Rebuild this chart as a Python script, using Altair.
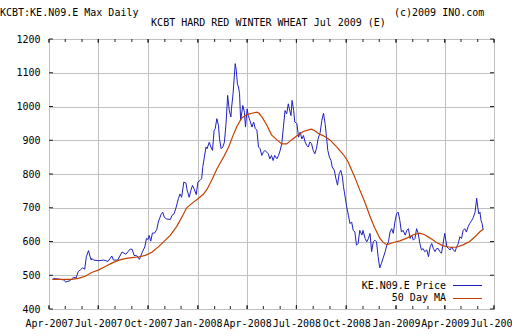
import altair as alt
import pandas as pd

FONT = "DejaVu Sans Mono"
GRID = "#c0c0c0"
BLUE = "#2020c0"
ORANGE = "#c44000"

price_dates = [
    "2007-04-09", "2007-04-13", "2007-04-22", "2007-04-28", "2007-05-02", "2007-05-10", "2007-05-16", "2007-05-21",
    "2007-05-25", "2007-05-29", "2007-06-02", "2007-06-06", "2007-06-09", "2007-06-13", "2007-06-15", "2007-06-18",
    "2007-06-19", "2007-06-22", "2007-07-02", "2007-07-11", "2007-07-19", "2007-07-26", "2007-07-29", "2007-08-06",
    "2007-08-14", "2007-08-21", "2007-08-29", "2007-09-02", "2007-09-05", "2007-09-11", "2007-09-15", "2007-09-20",
    "2007-09-25", "2007-09-28", "2007-10-01", "2007-10-03", "2007-10-06", "2007-10-09", "2007-10-13", "2007-10-17",
    "2007-10-20", "2007-10-25", "2007-10-28", "2007-10-31", "2007-11-04", "2007-11-11", "2007-11-14", "2007-11-18",
    "2007-11-22", "2007-11-26", "2007-11-29", "2007-12-02", "2007-12-06", "2007-12-10", "2007-12-12", "2007-12-16",
    "2007-12-19", "2007-12-22", "2007-12-25", "2007-12-29",
    "2008-01-01", "2008-01-05", "2008-01-08", "2008-01-10", "2008-01-13", "2008-01-16", "2008-01-18", "2008-01-22",
    "2008-01-25", "2008-01-28", "2008-01-31", "2008-02-02", "2008-02-05", "2008-02-08", "2008-02-10", "2008-02-13",
    "2008-02-16", "2008-02-19", "2008-02-22", "2008-02-25", "2008-02-28", "2008-03-02", "2008-03-03", "2008-03-06",
    "2008-03-10", "2008-03-12", "2008-03-14", "2008-03-16", "2008-03-18", "2008-03-20", "2008-03-24", "2008-03-27",
    "2008-03-29", "2008-04-01", "2008-04-03", "2008-04-06", "2008-04-10", "2008-04-13", "2008-04-16", "2008-04-19",
    "2008-04-22", "2008-04-25", "2008-04-28", "2008-05-01", "2008-05-04", "2008-05-07", "2008-05-10", "2008-05-13",
    "2008-05-16", "2008-05-19", "2008-05-22", "2008-05-26", "2008-05-29", "2008-06-01", "2008-06-04", "2008-06-07",
    "2008-06-10", "2008-06-13", "2008-06-16", "2008-06-18", "2008-06-21", "2008-06-23", "2008-06-26", "2008-06-28",
    "2008-07-02", "2008-07-05", "2008-07-08", "2008-07-11", "2008-07-14", "2008-07-17", "2008-07-20", "2008-07-23",
    "2008-07-26", "2008-07-29", "2008-08-01", "2008-08-04", "2008-08-07", "2008-08-10", "2008-08-14", "2008-08-17",
    "2008-08-20", "2008-08-23", "2008-08-25", "2008-08-28", "2008-08-31", "2008-09-03", "2008-09-05", "2008-09-09",
    "2008-09-12", "2008-09-15", "2008-09-18", "2008-09-21", "2008-09-24", "2008-09-26", "2008-09-29", "2008-10-02",
    "2008-10-05", "2008-10-08", "2008-10-11", "2008-10-14", "2008-10-17", "2008-10-20", "2008-10-23", "2008-10-26",
    "2008-10-30", "2008-11-01", "2008-11-05", "2008-11-08", "2008-11-11", "2008-11-14", "2008-11-17", "2008-11-20",
    "2008-11-23", "2008-11-26", "2008-11-29", "2008-12-02", "2008-12-05", "2008-12-08", "2008-12-12", "2008-12-15",
    "2008-12-18", "2008-12-21", "2008-12-24", "2008-12-27", "2008-12-30",
    "2009-01-02", "2009-01-05", "2009-01-08", "2009-01-11", "2009-01-14", "2009-01-18", "2009-01-21", "2009-01-24",
    "2009-01-27", "2009-01-30", "2009-02-02", "2009-02-05", "2009-02-08", "2009-02-11", "2009-02-14", "2009-02-17",
    "2009-02-20", "2009-02-23", "2009-02-27", "2009-03-02", "2009-03-05", "2009-03-08", "2009-03-11", "2009-03-14",
    "2009-03-17", "2009-03-20", "2009-03-23", "2009-03-26", "2009-03-29", "2009-04-01", "2009-04-05", "2009-04-08",
    "2009-04-11", "2009-04-14", "2009-04-17", "2009-04-20", "2009-04-23", "2009-04-26", "2009-04-29", "2009-05-02",
    "2009-05-05", "2009-05-08", "2009-05-11", "2009-05-14", "2009-05-17", "2009-05-21", "2009-05-24", "2009-05-27",
    "2009-05-30", "2009-06-01", "2009-06-03", "2009-06-05", "2009-06-07", "2009-06-09", "2009-06-11",
]
price_values = [
    491, 490, 488, 486, 480, 484, 494, 492,
    511, 516, 522, 518, 555, 573, 560, 545,
    550, 545, 543, 545, 541, 557, 545, 545,
    569, 562, 578, 576, 559, 557, 547, 567,
    584, 609, 606, 618, 601, 625, 625, 635,
    658, 680, 687, 672, 667, 665, 677, 682,
    702, 727, 741, 731, 776, 773, 753, 731,
    751, 766, 756, 739,
    776, 781, 786, 820, 850, 880, 875, 894,
    880, 870, 929, 934, 964, 944, 904, 875,
    880, 894, 949, 1033, 988, 969, 993, 1038,
    1127, 1107, 1067, 1058, 1038, 959, 1003, 983,
    939, 993, 974, 959, 939, 954, 935, 930,
    880, 875, 855, 865, 870, 865, 860, 845,
    855, 840, 855, 845, 855, 870, 890, 939,
    988, 978, 1008, 993, 973, 1018, 988, 954,
    949, 909, 924, 904, 914, 895, 885, 880,
    895, 890, 870, 860, 875, 904, 924, 959,
    980, 949, 919, 870, 850, 840, 821, 811,
    786, 767, 801, 811, 791, 762, 732, 702,
    678, 653, 658, 633, 628, 589, 594, 633,
    619, 633, 609, 599, 609, 624, 570, 599,
    604, 599, 555, 522, 535, 550, 570, 589,
    599, 628, 638, 624, 658,
    682, 687, 663, 628, 633, 619, 633, 638,
    609, 619, 604, 609, 638, 624, 594, 575,
    579, 570, 575, 555, 584, 594, 579, 570,
    579, 579, 570, 565, 594, 624, 584, 579,
    575, 584, 575, 570, 584, 594, 614, 609,
    633, 638, 628, 643, 653, 663, 672, 687,
    728, 702, 682, 687, 663, 653, 635,
]

ma_dates = [
    "2007-04-07", "2007-04-25", "2007-05-13", "2007-05-25", "2007-06-07", "2007-06-19", "2007-07-02", "2007-07-14",
    "2007-07-26", "2007-08-07", "2007-08-19", "2007-09-01", "2007-09-13", "2007-09-26", "2007-10-08", "2007-10-20",
    "2007-10-31", "2007-11-11", "2007-11-23", "2007-12-05", "2007-12-11", "2007-12-21", "2007-12-31", "2008-01-11",
    "2008-01-18", "2008-01-27", "2008-02-05", "2008-02-11", "2008-02-19", "2008-02-27", "2008-03-05", "2008-03-13",
    "2008-03-22", "2008-04-01", "2008-04-10", "2008-04-19", "2008-04-23", "2008-04-28", "2008-05-07", "2008-05-16",
    "2008-05-26", "2008-06-04", "2008-06-13", "2008-06-22", "2008-07-02", "2008-07-14", "2008-07-22", "2008-07-29",
    "2008-08-04", "2008-08-10", "2008-08-20", "2008-09-01", "2008-09-13", "2008-09-26", "2008-10-04", "2008-10-12",
    "2008-10-17", "2008-10-26", "2008-11-05", "2008-11-14", "2008-11-23", "2008-12-02", "2008-12-08", "2008-12-15",
    "2008-12-27", "2009-01-08", "2009-01-21", "2009-02-02", "2009-02-14", "2009-02-23", "2009-03-05", "2009-03-17",
    "2009-03-29", "2009-04-11", "2009-04-23", "2009-05-05", "2009-05-17", "2009-05-27", "2009-06-05", "2009-06-11",
]
ma_values = [
    488, 488, 488, 491, 497, 508, 516, 526,
    536, 544, 549, 552, 554, 559, 568, 584,
    601, 618, 645, 680, 699, 713, 725, 740,
    755, 783, 815, 832, 855, 881, 910, 941,
    966, 976, 980, 983, 980, 970, 946, 916,
    901, 889, 889, 901, 913, 926, 930, 933,
    928, 921, 913, 901, 881, 857, 838, 808,
    790, 753, 714, 674, 639, 610, 598, 590,
    597, 602, 610, 620, 625, 620, 610, 597,
    587, 583, 583, 590, 600, 614, 629, 636,
]

y_ticks = [400, 500, 600, 700, 800, 900, 1000, 1100, 1200]
quarter_ticks = ["2007-04-01", "2007-07-01", "2007-10-01", "2008-01-01", "2008-04-01",
                 "2008-07-01", "2008-10-01", "2009-01-01", "2009-04-01", "2009-07-01"]
month_ticks = [
    "2007-04-01", "2007-05-01", "2007-06-01", "2007-07-01", "2007-08-01", "2007-09-01", "2007-10-01",
    "2007-11-01", "2007-12-01", "2008-01-01", "2008-02-01", "2008-03-01", "2008-04-01", "2008-05-01",
    "2008-06-01", "2008-07-01", "2008-08-01", "2008-09-01", "2008-10-01", "2008-11-01", "2008-12-01",
    "2009-01-01", "2009-02-01", "2009-03-01", "2009-04-01", "2009-05-01", "2009-06-01", "2009-07-01",
]
legend_labels = ["KE.N09.E Price", "50 Day MA"]
title_left = "KCBT:KE.N09.E Max Daily"
title_center = "KCBT HARD RED WINTER WHEAT Jul 2009 (E)"
title_right = "(c)2009 INO.com"

W, H = 445, 270


def dt(s):
    y, m, d = (int(p) for p in s.split("-"))
    return alt.DateTime(year=y, month=m, date=d, utc=True)


X_SCALE = alt.Scale(type="utc", domain=[dt(quarter_ticks[0]), dt(quarter_ticks[-1])])
Y_SCALE = alt.Scale(domain=[400, 1200], nice=False, zero=False)

price_df = pd.DataFrame({"date": price_dates, "value": price_values})
ma_df = pd.DataFrame({"date": ma_dates, "value": ma_values})
q_df = pd.DataFrame({"date": quarter_ticks})
m_df = pd.DataFrame({"date": month_ticks})
yt_df = pd.DataFrame({"value": y_ticks})
one = pd.DataFrame({"k": [0]})

X_AXIS = alt.Axis(values=[dt(s) for s in quarter_ticks], format="%b-%Y", title=None,
                  labelAlign="center", labelBaseline="top")
Y_AXIS = alt.Axis(values=y_ticks, format="d", title=None)


def X(field="date:T"):
    return alt.X(field, scale=X_SCALE, axis=X_AXIS, title=None)


def Y(field="value:Q"):
    return alt.Y(field, scale=Y_SCALE, axis=Y_AXIS, title=None)


price = alt.Chart(price_df).mark_line(color=BLUE, strokeWidth=1).encode(x=X(), y=Y())
ma = alt.Chart(ma_df).mark_line(color=ORANGE, strokeWidth=1.2).encode(x=X(), y=Y())

TICK = "#222222"
left_ticks = alt.Chart(yt_df).mark_rule(color=TICK, strokeWidth=1).encode(
    y=Y(), x=alt.value(0), x2=alt.value(4))
right_ticks = alt.Chart(yt_df).mark_rule(color=TICK, strokeWidth=1).encode(
    y=Y(), x=alt.value(W - 4), x2=alt.value(W))
top_q = alt.Chart(q_df).mark_rule(color=TICK, strokeWidth=1).encode(
    x=X(), y=alt.value(0), y2=alt.value(4))
top_m = alt.Chart(m_df).mark_rule(color=TICK, strokeWidth=1).encode(
    x=X(), y=alt.value(0), y2=alt.value(3))
bot_q = alt.Chart(q_df).mark_rule(color=TICK, strokeWidth=1).encode(
    x=X(), y=alt.value(H - 4), y2=alt.value(H))
bot_m = alt.Chart(m_df).mark_rule(color=TICK, strokeWidth=1).encode(
    x=X(), y=alt.value(H - 3), y2=alt.value(H))

legend_box = alt.Chart(one).mark_rect(color="white").encode(
    x=alt.value(309), x2=alt.value(W - 1), y=alt.value(237), y2=alt.value(H - 4))
leg_t1 = alt.Chart(one).mark_text(text=legend_labels[0], font=FONT, fontSize=10, align="right",
                                  baseline="middle", color="#000000").encode(
    x=alt.value(397), y=alt.value(247))
leg_t2 = alt.Chart(one).mark_text(text=legend_labels[1], font=FONT, fontSize=10, align="right",
                                  baseline="middle", color="#000000").encode(
    x=alt.value(397), y=alt.value(259))
leg_l1 = alt.Chart(one).mark_rule(color=BLUE, strokeWidth=1).encode(
    x=alt.value(404), x2=alt.value(433), y=alt.value(246.5))
leg_l2 = alt.Chart(one).mark_rule(color=ORANGE, strokeWidth=1).encode(
    x=alt.value(404), x2=alt.value(433), y=alt.value(259.5))

t_left = alt.Chart(one).mark_text(text=title_left, font=FONT, fontSize=10, align="left",
                                  baseline="alphabetic", color="#000000").encode(
    x=alt.value(-49), y=alt.value(-23.5))
t_center = alt.Chart(one).mark_text(text=title_center, font=FONT, fontSize=10, align="center",
                                    baseline="alphabetic", color="#000000").encode(
    x=alt.value(219.5), y=alt.value(-13.5))
t_right = alt.Chart(one).mark_text(text=title_right, font=FONT, fontSize=10, align="left",
                                   baseline="alphabetic", color="#000000").encode(
    x=alt.value(345), y=alt.value(-23.5))

chart = alt.layer(
    price, legend_box, ma,
    left_ticks, right_ticks, top_q, top_m, bot_q, bot_m,
    leg_t1, leg_t2, leg_l1, leg_l2, t_left, t_center, t_right,
).properties(
    width=W, height=H,
    autosize=alt.AutoSizeParams(type="none"),
    padding={"left": 49, "top": 39, "right": 18, "bottom": 27},
    background="white",
).configure_view(
    stroke=GRID, strokeWidth=1
).configure_axis(
    grid=True, gridColor=GRID, gridWidth=1, gridOpacity=1, ticks=False, domain=False,
    labelFont=FONT, labelFontSize=10, labelColor="#000000", labelPadding=9,
    labelOverlap=False, labelFlush=False, titleFontSize=0,
)

chart.save("out.html", embed_options={"renderer": "svg", "actions": False})
